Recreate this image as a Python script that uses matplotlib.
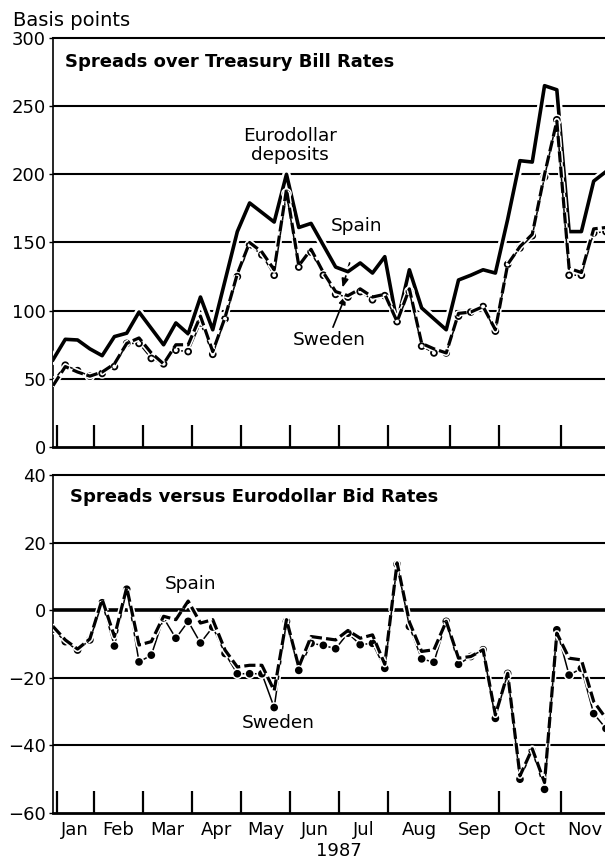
import matplotlib.pyplot as plt
import matplotlib.patheffects as pe
import numpy as np

plt.rcParams["font.family"] = ["DejaVu Sans"]

# weekly observations, 1987
weeks = np.arange(46)

# spreads over treasury bill rates (basis points)
eurodollar = [64, 79, 78.5, 72, 67, 81, 83.5, 99, 87, 75,
              91, 83, 110, 86, 122, 158, 179, 172, 165, 200,
              161, 164, 148, 132, 128.6, 135, 127.6, 139.6, 91, 130,
              102, 94, 86, 122.5, 126, 130, 127.6, 167, 210, 209,
              265, 262, 158, 158, 195, 202]
spain_tb = [45, 59, 55, 52, 55, 61, 76, 80, 69, 61,
            75, 75, 96, 70, 95, 127, 150, 143, 130, 189,
            133, 145, 128, 114, 111, 116, 110, 112, 92, 116,
            76, 72, 69, 98, 99, 103, 86, 134, 147, 156,
            200, 239, 131, 128, 160, 161]
sweden_tb = [48, 60, 56, 52, 54, 59, 76, 76, 65, 61,
             71, 70, 91, 68, 94, 125, 148, 141, 126, 186,
             132, 143, 126, 112, 110, 114, 108, 111, 92, 114,
             74, 69, 69, 96, 99, 103, 85, 134, 146, 155,
             198, 240, 126, 126, 157, 158]

# spreads versus eurodollar bid rates
spain_bid = [-4.8, -8.8, -11.5, -8.5, 3.2, -7.8, 6.7, -10.3, -9.3, -1.8,
             -2.8, 2.7, -3.8, -2.8, -11.8, -16.8, -16.3, -16.3, -23.8, -2.8,
             -16.8, -7.8, -8.3, -8.8, -6, -8.3, -7.3, -16, 14, -3.5,
             -12.2, -11.7, -3.3, -14.2, -13.7, -11.7, -31, -18.7, -49, -41,
             -51, -6.8, -14.2, -14.7, -27, -32]
sweden_bid = [-5.6, -9.3, -11.8, -8.8, 2.2, -10.6, 6.2, -15.3, -13.3, -2.3,
              -8.3, -3.3, -9.7, -5, -12.8, -18.8, -18.8, -18.8, -28.8, -3.3,
              -17.8, -9.8, -10.4, -11.4, -6.8, -10.2, -9.8, -17.2, 13.6, -4.8,
              -14.4, -15.4, -3.3, -16, -13.7, -11.7, -32, -18.7, -50, -41.6,
              -53, -5.8, -19.2, -17.2, -30.6, -35]

months = ["Jan", "Feb", "Mar", "Apr", "May", "Jun", "Jul", "Aug", "Sep", "Oct", "Nov"]
month_edges = [0.3, 3.3, 7.3, 11.3, 15.3, 19.3, 23.3, 27.3, 32.3, 36.3, 41.3, 45.3]
month_mid = [(a + b) / 2 for a, b in zip(month_edges[:-1], month_edges[1:])]

halo = lambda w: [pe.withStroke(linewidth=w, foreground="white")]


def draw_series(ax, eu, spain, sweden, dot_face):
    if eu is not None:
        ax.plot(weeks, eu, color="black", lw=2.6, zorder=4, path_effects=halo(6))
    ax.plot(weeks, sweden, color="black", lw=1.1, marker="o", ms=4.2,
            mfc=dot_face, mec="black", mew=1.3, zorder=5, path_effects=halo(3.5))
    ax.plot(weeks, spain, color="black", lw=2.3, ls=(0, (3.5, 1.3)), zorder=6,
            path_effects=halo(4.5))


def style_axes(ax, ymin, ymax, grid, zero=None):
    ax.set_xlim(0, 44.92)
    ax.set_ylim(ymin, ymax)
    for y in grid:
        ax.axhline(y, color="black", lw=1.5, zorder=1)
    if zero is not None:
        ax.axhline(zero, color="black", lw=2.6, zorder=1)
    ax.spines["right"].set_visible(False)
    ax.spines["top"].set_linewidth(1.5)
    ax.spines["bottom"].set_linewidth(2)
    ax.spines["left"].set_linewidth(1.2)
    ax.set_xticks(month_edges[:-1])
    ax.tick_params(axis="x", which="major", direction="in", length=16, width=1.6,
                   labelbottom=False)
    ax.tick_params(axis="y", length=3, width=1, labelsize=13, pad=2)


fig = plt.figure(figsize=(6.05, 8.59), dpi=100)
ax1 = fig.add_axes([0.0876, 0.4796, 0.9124, 0.4762])
ax2 = fig.add_axes([0.0876, 0.05355, 0.9124, 0.3935])

# top panel
draw_series(ax1, eurodollar, spain_tb, sweden_tb, "white")
style_axes(ax1, 0, 300, [50, 100, 150, 200, 250])
ax1.set_yticks([0, 50, 100, 150, 200, 250, 300])
ax1.text(0.022, 0.941, "Spreads over Treasury Bill Rates", transform=ax1.transAxes,
         fontsize=13, fontweight="bold", ha="left", va="center")
ax1.text(19.3, 221, "Eurodollar\ndeposits", fontsize=13.3, ha="center", va="center",
         linespacing=1.05)
ax1.text(24.7, 162, "Spain", fontsize=13.3, ha="center", va="center")
ax1.annotate("", xy=(23.5, 115), xytext=(24.2, 137),
             arrowprops=dict(arrowstyle="-|>,head_length=0.5,head_width=0.2",
                             color="black", lw=1.2))
ax1.text(22.5, 78.5, "Sweden", fontsize=13.3, ha="center", va="center")
ax1.annotate("", xy=(23.9, 113), xytext=(22.7, 86),
             arrowprops=dict(arrowstyle="-|>,head_length=0.5,head_width=0.2",
                             color="black", lw=1.2))

# bottom panel
draw_series(ax2, None, spain_bid, sweden_bid, "black")
style_axes(ax2, -60, 40, [20, -20, -40], zero=0)
ax2.set_yticks([-60, -40, -20, 0, 20, 40])
ax2.set_yticklabels(["\u221260", "\u221240", "\u221220", "0", "20", "40"])
ax2.set_xticks(month_mid, minor=True)
ax2.set_xticklabels(months, minor=True, fontsize=13)
ax2.tick_params(axis="x", which="minor", length=0, pad=6)
ax2.text(0.031, 0.935, "Spreads versus Eurodollar Bid Rates", transform=ax2.transAxes,
         fontsize=13, fontweight="bold", ha="left", va="center")
ax2.text(11.2, 7.7, "Spain", fontsize=13.3, ha="center", va="center")
ax2.text(18.3, -33.4, "Sweden", fontsize=13.3, ha="center", va="center")

fig.text(0.0215, 0.9767, "Basis points", fontsize=14, ha="left", va="center")
fig.text(0.560, 0.0093, "1987", fontsize=13, ha="center", va="center")

fig.savefig("out.png", dpi=100)
